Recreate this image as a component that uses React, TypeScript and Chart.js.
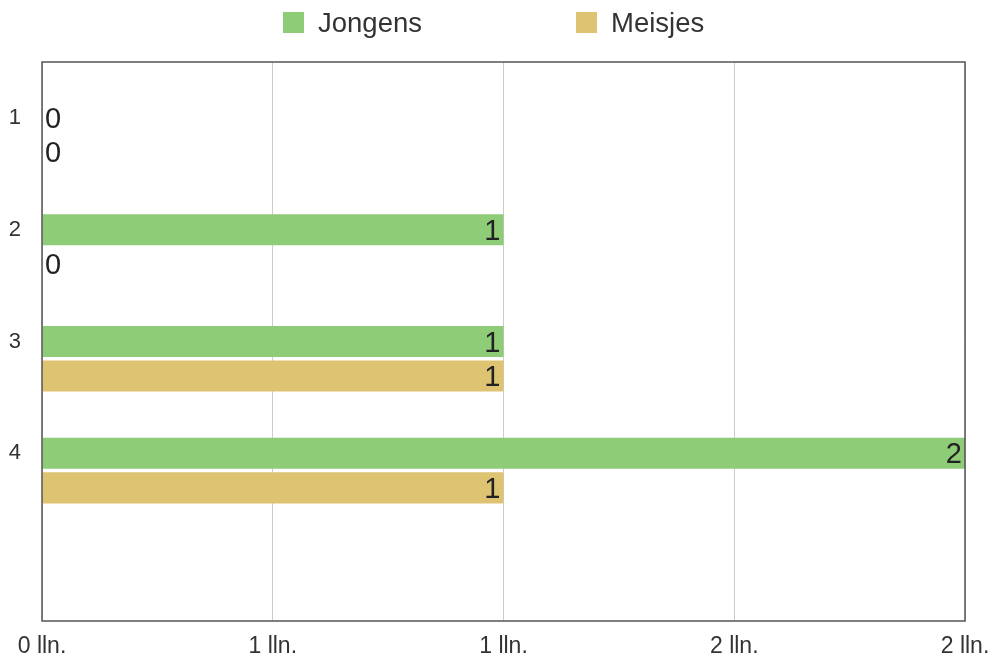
import React, { useEffect, useRef } from "react";
import { Chart, registerables } from "chart.js";

Chart.register(...registerables);

// Group sizes (categories on the vertical axis)
const categories = ["1", "2", "3", "4", ""];
const jongens = [0, 1, 1, 2, null];
const meisjes = [0, 0, 1, 1, null];
// Tick values on the horizontal axis are 0, 0.5, 1, 1.5, 2 — shown rounded
const xTickLabels = ["0 lln.", "1 lln.", "1 lln.", "2 lln.", "2 lln."];

const GREEN = "#8fcc77";
const GOLD = "#ddc372";
const FONT = "'Liberation Sans', Arial, Helvetica, sans-serif";

// Frame around the plotting area
const framePlugin = {
  id: "frame",
  afterDraw(chart: any) {
    const { ctx, chartArea: a } = chart;
    ctx.save();
    ctx.strokeStyle = "#555";
    ctx.lineWidth = 1.5;
    ctx.strokeRect(a.left, a.top, a.right - a.left, a.bottom - a.top);
    ctx.restore();
  },
};

// Value labels at the end of each bar (or just right of the axis for zero)
const valueLabelPlugin = {
  id: "valueLabels",
  afterDatasetsDraw(chart: any) {
    const { ctx } = chart;
    ctx.save();
    ctx.font = `29px ${FONT}`;
    ctx.fillStyle = "#222";
    ctx.textBaseline = "middle";
    chart.data.datasets.forEach((ds: any, di: number) => {
      if (!ds.label) return;
      const meta = chart.getDatasetMeta(di);
      meta.data.forEach((el: any, i: number) => {
        const v = ds.data[i];
        if (v === null || v === undefined) return;
        const text = String(v);
        const w = ctx.measureText(text).width;
        const base = el.base;
        let x = el.x - 3;
        if (x - w < base + 3) x = base + 3 + w;
        ctx.textAlign = "right";
        ctx.fillText(text, x, el.y + 2);
      });
    });
    ctx.restore();
  },
};

function LegendItem({ color, text }: { color: string; text: string }) {
  return (
    <div style={{ display: "flex", alignItems: "center" }}>
      <span
        style={{
          display: "inline-block",
          width: 21,
          height: 21,
          background: color,
          marginRight: 14,
        }}
      />
      <span style={{ fontFamily: FONT, fontSize: 27.5, color: "#333" }}>{text}</span>
    </div>
  );
}

export default function App() {
  const canvasRef = useRef<HTMLCanvasElement | null>(null);

  useEffect(() => {
    document.body.style.margin = "0";
    const canvas = canvasRef.current;
    if (!canvas) return;
    const chart = new Chart(canvas, {
      type: "bar",
      data: {
        labels: categories,
        datasets: [
          {
            label: "",
            data: categories.map(() => null),
            backgroundColor: "rgba(0,0,0,0)",
          },
          { label: "Jongens", data: jongens, backgroundColor: GREEN },
          { label: "Meisjes", data: meisjes, backgroundColor: GOLD },
        ],
      },
      options: {
        indexAxis: "y",
        responsive: false,
        animation: false,
        datasets: {
          bar: { categoryPercentage: 0.927, barPercentage: 0.9 },
        },
        layout: { padding: { top: 62, right: 28, left: 0, bottom: 0 } },
        plugins: {
          legend: { display: false },
          tooltip: { enabled: false },
        },
        scales: {
          x: {
            min: 0,
            max: 2,
            ticks: {
              stepSize: 0.5,
              padding: 12,
              color: "#333",
              font: { family: FONT, size: 23 },
              maxRotation: 0,
              callback: (_v: any, i: number) => xTickLabels[i],
            },
            grid: { color: "#cccccc", lineWidth: 1, drawTicks: false },
            border: { display: false },
            afterFit: (s: any) => {
              s.height = 40;
              s.paddingLeft = 0;
              s.paddingRight = 0;
            },
          },
          y: {
            ticks: {
              padding: 21,
              color: "#333",
              font: { family: FONT, size: 22 },
            },
            grid: { display: false, drawTicks: false },
            border: { display: false },
            afterFit: (s: any) => {
              s.width = 42;
            },
          },
        },
      },
      plugins: [framePlugin, valueLabelPlugin],
    });
    return () => chart.destroy();
  }, []);

  return (
    <div style={{ position: "absolute", left: 0, top: 0, width: 993, height: 661, background: "#fff" }}>
      <canvas ref={canvasRef} width={993} height={661} style={{ display: "block" }} />
      <div
        style={{
          position: "absolute",
          top: 6,
          left: 283,
          display: "flex",
          gap: 154,
          lineHeight: "33px",
        }}
      >
        <LegendItem color={GREEN} text="Jongens" />
        <LegendItem color={GOLD} text="Meisjes" />
      </div>
    </div>
  );
}
